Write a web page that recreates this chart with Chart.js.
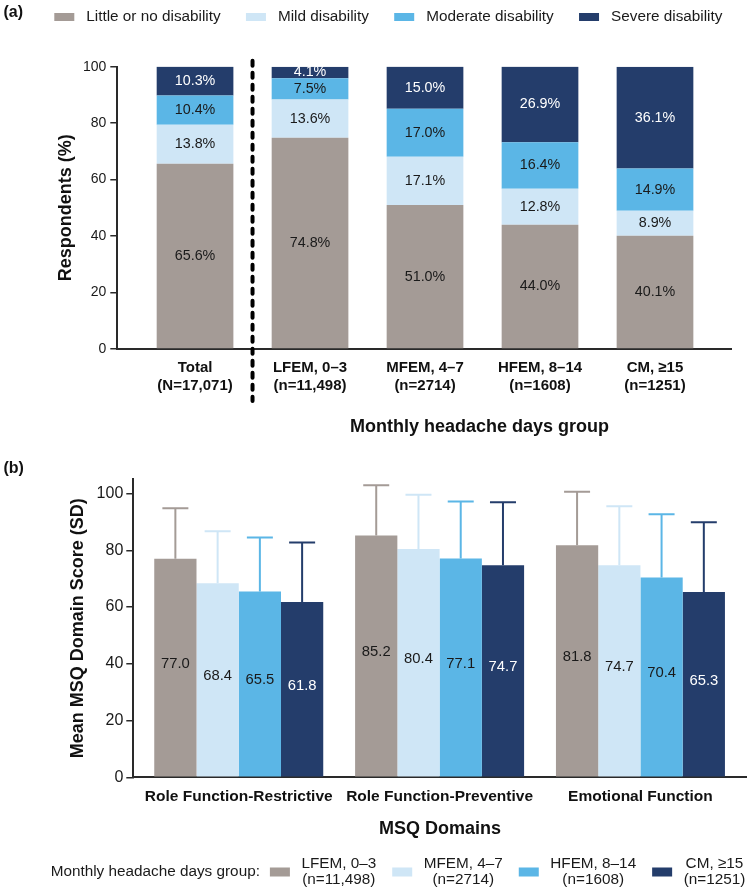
<!DOCTYPE html>
<html>
<head>
<meta charset="utf-8">
<script src="https://cdn.jsdelivr.net/npm/chart.js@4.4.0/dist/chart.umd.min.js"></script>
<style>
html,body{margin:0;padding:0;background:#fff;}
#wrap{position:relative;width:755px;height:893px;overflow:hidden;}
.box{position:absolute;left:0;width:755px;}
</style>
</head>
<body>
<div id="wrap">
  <div class="box" style="top:0;height:450px"><canvas id="ca" width="755" height="450"></canvas></div>
  <div class="box" style="top:450px;height:443px"><canvas id="cb" width="755" height="443"></canvas></div>
</div>
<script>
// ---------- DATA (a) ----------
const groupLabels = [['Total','(N=17,071)'],['LFEM, 0–3','(n=11,498)'],['MFEM, 4–7','(n=2714)'],['HFEM, 8–14','(n=1608)'],['CM, ≥15','(n=1251)']];
const disabilityLevels = ['Little or no disability','Mild disability','Moderate disability','Severe disability'];
const littleOrNone = [65.6, 74.8, 51.0, 44.0, 40.1];
const mild         = [13.8, 13.6, 17.1, 12.8, 8.9];
const moderate     = [10.4, 7.5, 17.0, 16.4, 14.9];
const severe       = [10.3, 4.1, 15.0, 26.9, 36.1];
const pctTicks = [0, 20, 40, 60, 80, 100];
const xTitleA = 'Monthly headache days group';

// ---------- DATA (b) ----------
const domains = ['Role Function-Restrictive','Role Function-Preventive','Emotional Function'];
const mhdGroups = [['LFEM, 0–3','(n=11,498)'],['MFEM, 4–7','(n=2714)'],['HFEM, 8–14','(n=1608)'],['CM, ≥15','(n=1251)']];
const meanLFEM = [77.0, 85.2, 81.8];
const meanMFEM = [68.4, 80.4, 74.7];
const meanHFEM = [65.5, 77.1, 70.4];
const meanCM   = [61.8, 74.7, 65.3];
const sdLFEM = [17.8, 17.7, 18.8];
const sdMFEM = [18.3, 19.2, 20.8];
const sdHFEM = [19.0, 20.1, 22.3];
const sdCM   = [20.9, 22.2, 24.6];
const scoreTicks = [0, 20, 40, 60, 80, 100];
const legendTitleB = 'Monthly headache days group:';

// ---------- STYLE ----------
const F = '"Liberation Sans", Arial, Helvetica, sans-serif';
const COLORS = ['#A49B96', '#CFE6F6', '#5BB6E6', '#243D6B'];
const TEXT_ON = ['#1a1a1a', '#1a1a1a', '#1a1a1a', '#ffffff'];
const AXIS = '#2a2a2a';

// ---------- CHART (a) ----------
const seriesA = [littleOrNone, mild, moderate, severe];
const dsA = seriesA.map((arr, k) => ({
  label: disabilityLevels[k],
  data: arr.map((v, i) => ({x: i, y: v})),
  backgroundColor: COLORS[k],
  borderWidth: 0,
  barPercentage: 0.667,
  categoryPercentage: 1.0
}));

const pluginA = {
  id: 'extrasA',
  afterDatasetsDraw(chart) {
    const ctx = chart.ctx;
    ctx.save();
    ctx.font = `14.3px ${F}`;
    ctx.textAlign = 'center';
    ctx.textBaseline = 'middle';
    chart.data.datasets.forEach((ds, k) => {
      const meta = chart.getDatasetMeta(k);
      meta.data.forEach((el, i) => {
        ctx.fillStyle = TEXT_ON[k];
        ctx.fillText(ds.data[i].y.toFixed(1) + '%', el.x, (el.y + el.base) / 2);
      });
    });
    ctx.restore();
  },
  afterDraw(chart) {
    const ctx = chart.ctx;
    const xs = chart.scales.x, ys = chart.scales.y;
    ctx.save();
    // dashed separator
    const dx = xs.getPixelForValue(0.5);
    ctx.strokeStyle = '#000';
    ctx.lineWidth = 4;
    ctx.lineCap = 'round';
    ctx.setLineDash([5, 7]);
    ctx.beginPath();
    ctx.moveTo(dx, ys.top - 6);
    ctx.lineTo(dx, ys.bottom + 52);
    ctx.stroke();
    ctx.setLineDash([]);
    // group title
    ctx.fillStyle = '#111';
    ctx.font = `bold 18px ${F}`;
    ctx.textAlign = 'center';
    ctx.textBaseline = 'middle';
    const cx = (xs.getPixelForValue(1) + xs.getPixelForValue(4)) / 2 - 3;
    ctx.fillText(xTitleA, cx, 427);
    // panel label
    ctx.textAlign = 'left';
    ctx.font = `bold 16px ${F}`;
    ctx.fillText('(a)', 3.5, 13);
    // legend
    ctx.font = `15.3px ${F}`;
    let x = 54.3;
    const yc = 17;
    chart.data.datasets.forEach(ds => {
      ctx.fillStyle = ds.backgroundColor;
      ctx.fillRect(x, yc - 4, 20, 8);
      x += 32;
      ctx.fillStyle = '#1a1a1a';
      ctx.fillText(ds.label, x, yc);
      x += ctx.measureText(ds.label).width + 25.3;
    });
    ctx.restore();
  }
};

new Chart(document.getElementById('ca'), {
  type: 'bar',
  data: {datasets: dsA},
  options: {
    responsive: false,
    animation: false,
    layout: {padding: {top: 66.7, left: 0, right: 23.3, bottom: 0}},
    plugins: {legend: {display: false}, tooltip: {enabled: false}},
    scales: {
      x: {
        type: 'linear', stacked: true, min: -0.676, max: 4.667, offset: false,
        grid: {display: false, drawTicks: false},
        border: {display: true, color: AXIS, width: 2},
        afterBuildTicks: s => { s.ticks = groupLabels.map((_, i) => ({value: i})); },
        afterFit: s => { s.height = 101; },
        ticks: {
          autoSkip: false, maxRotation: 0, minRotation: 0, padding: 10, color: '#111',
          font: {family: F, size: 15, weight: 'bold', lineHeight: 1.2},
          callback: v => groupLabels[v]
        }
      },
      y: {
        stacked: true, min: 0, max: 100,
        afterBuildTicks: s => { s.ticks = pctTicks.map(v => ({value: v})); },
        afterFit: s => { s.width = 117.3; },
        grid: {drawOnChartArea: false, drawTicks: true, tickLength: 7, color: AXIS, lineWidth: 1.5},
        border: {display: true, color: AXIS, width: 2},
        ticks: {padding: 4, color: '#1a1a1a', font: {family: F, size: 14}},
        title: {display: true, text: 'Respondents (%)', color: '#111',
                font: {family: F, size: 18, weight: 'bold', lineHeight: 1.2}, padding: {top: 55.7, bottom: 0}}
      }
    }
  },
  plugins: [pluginA]
});

// ---------- CHART (b) ----------
const seriesB = [meanLFEM, meanMFEM, meanHFEM, meanCM];
const sdsB = [sdLFEM, sdMFEM, sdHFEM, sdCM];
const dsB = seriesB.map((arr, k) => ({
  label: mhdGroups[k].join(' '),
  data: arr.map((v, i) => ({x: i, y: v})),
  sd: sdsB[k],
  backgroundColor: COLORS[k],
  borderWidth: 0,
  barPercentage: 1.0,
  categoryPercentage: 0.8414
}));

const pluginB = {
  id: 'extrasB',
  afterDatasetsDraw(chart) {
    const ctx = chart.ctx;
    const ys = chart.scales.y;
    ctx.save();
    chart.data.datasets.forEach((ds, k) => {
      const meta = chart.getDatasetMeta(k);
      meta.data.forEach((el, i) => {
        const v = ds.data[i].y;
        const top = ys.getPixelForValue(v + ds.sd[i]);
        ctx.strokeStyle = ds.backgroundColor;
        ctx.lineWidth = 2;
        ctx.beginPath();
        ctx.moveTo(el.x, el.y);
        ctx.lineTo(el.x, top);
        ctx.moveTo(el.x - 13, top);
        ctx.lineTo(el.x + 13, top);
        ctx.stroke();
        ctx.fillStyle = TEXT_ON[k];
        ctx.font = `14.8px ${F}`;
        ctx.textAlign = 'center';
        ctx.textBaseline = 'middle';
        ctx.fillText(v.toFixed(1), el.x, ys.getPixelForValue(v / 2) - 4);
      });
    });
    ctx.restore();
  },
  afterDraw(chart) {
    const ctx = chart.ctx;
    ctx.save();
    ctx.fillStyle = '#111';
    ctx.textBaseline = 'middle';
    ctx.textAlign = 'left';
    ctx.font = `bold 16px ${F}`;
    ctx.fillText('(b)', 3.5, 19);
    // bottom legend
    ctx.font = `15.3px ${F}`;
    const yc = 422;
    let x = 50.7;
    ctx.fillStyle = '#1a1a1a';
    ctx.fillText(legendTitleB, x, yc);
    x += ctx.measureText(legendTitleB).width + 10;
    chart.data.datasets.forEach((ds, k) => {
      ctx.fillStyle = ds.backgroundColor;
      ctx.fillRect(x, yc - 4.5, 20, 9);
      x += 31.5;
      const lines = mhdGroups[k];
      const w = Math.max(...lines.map(l => ctx.measureText(l).width));
      ctx.fillStyle = '#1a1a1a';
      ctx.textAlign = 'center';
      lines.forEach((ln, j) => ctx.fillText(ln, x + w / 2, yc - 8 + 16 * j));
      x += w + 16;
    });
    ctx.restore();
  }
};

new Chart(document.getElementById('cb'), {
  type: 'bar',
  data: {datasets: dsB},
  options: {
    responsive: false,
    animation: false,
    layout: {padding: {top: 29.3, left: 0, right: 8.3, bottom: 52.9}},
    plugins: {legend: {display: false}, tooltip: {enabled: false}},
    scales: {
      x: {
        type: 'linear', min: -0.525, max: 2.529, offset: false,
        grid: {display: false, drawTicks: false},
        border: {display: true, color: AXIS, width: 2},
        afterBuildTicks: s => { s.ticks = domains.map((_, i) => ({value: i})); },
        afterFit: s => { s.height = 62.8; },
        ticks: {
          autoSkip: false, maxRotation: 0, minRotation: 0, padding: 10, color: '#111',
          font: {family: F, size: 15.5, weight: 'bold', lineHeight: 1.2},
          callback: v => domains[v]
        },
        title: {display: true, text: 'MSQ Domains', color: '#111',
                font: {family: F, size: 18, weight: 'bold', lineHeight: 1.2}, padding: {top: 4, bottom: 0}}
      },
      y: {
        min: 0, max: 105,
        afterBuildTicks: s => { s.ticks = scoreTicks.map(v => ({value: v})); },
        afterFit: s => { s.width = 133.3; },
        grid: {drawOnChartArea: false, drawTicks: true, tickLength: 7, color: AXIS, lineWidth: 1.5},
        border: {display: true, color: AXIS, width: 2},
        ticks: {padding: 3, color: '#1a1a1a', font: {family: F, size: 16}},
        title: {display: true, text: 'Mean MSQ Domain Score (SD)', color: '#111',
                font: {family: F, size: 18, weight: 'bold', lineHeight: 1.2}, padding: {top: 67.5, bottom: 0}}
      }
    }
  },
  plugins: [pluginB]
});
</script>
</body>
</html>
